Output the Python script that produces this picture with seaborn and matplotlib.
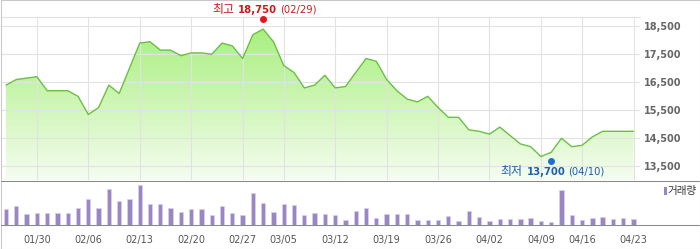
import numpy as np
import pandas as pd
import matplotlib
matplotlib.use("Agg")
import matplotlib.pyplot as plt
import matplotlib.transforms as mtransforms
from matplotlib.colors import LinearSegmentedColormap
from matplotlib.patches import Rectangle
from matplotlib.lines import Line2D
import seaborn as sns

# ---------------- data ----------------
day_index = list(range(62))
close = [16400, 16600, 16650, 16700, 16200, 16200, 16200, 16000, 15350, 15600,
         16400, 16100, 17000, 17900, 17950, 17650, 17650, 17450, 17550, 17550,
         17500, 17900, 17800, 17350, 18200, 18400, 17950, 17100, 16850, 16300,
         16400, 16750, 16300, 16350, 16850, 17350, 17250, 16600, 16200, 15900,
         15800, 16000, 15600, 15250, 15250, 14800, 14750, 14650, 14900, 14600,
         14300, 14200, 13850, 14000, 14500, 14200, 14250, 14550, 14750, 14750,
         14750, 14750]
volume = [47, 56, 32, 37, 36, 35, 37, 52, 77, 51,
          107, 73, 79, 120, 62, 62, 52, 39, 49, 49,
          29, 57, 37, 31, 95, 67, 38, 64, 60, 29,
          35, 32, 30, 14, 43, 51, 20, 33, 32, 32,
          16, 16, 15, 26, 12, 43, 23, 11, 19, 17,
          17, 22, 13, 10, 106, 31, 16, 20, 23, 17,
          21, 17]
tick_idx = [3, 8, 13, 18, 23, 27, 32, 37, 42, 47, 52, 56, 61]
tick_labels = ['01/30', '02/06', '02/13', '02/20', '02/27', '03/05', '03/12',
               '03/19', '03/26', '04/02', '04/09', '04/16', '04/23']
price_ticks = [13500, 14500, 15500, 16500, 17500, 18500]
hi_idx, hi_val, hi_date = 25, 18750, '02/29'
lo_idx, lo_val, lo_date = 53, 13700, '04/10'
hi_word, lo_word, vol_word = '최고', '최저', '거래량'

# ---------------- style ----------------
sns.set_style("white")
plt.rcParams['font.family'] = ['DejaVu Sans', 'Noto Sans CJK KR']

W, H = 700, 249
fig = plt.figure(figsize=(W / 100, H / 100), dpi=100)


def fx(px):
    return px / W


def fy(py):
    return 1 - py / H


i0_px = 6.0
step_px = (633.5 - 6.0) / 61
xlim = ((1 - i0_px) / step_px, (640 - i0_px) / step_px)
ylim = (13011, 18821)

ax = fig.add_axes([fx(1), fy(180), 639 / W, (180 - 17.3) / H])
axv = fig.add_axes([fx(1), fy(225), 639 / W, (225 - 182) / H])

# ---- price panel ----
grad = np.linspace(1, 0, 256).reshape(-1, 1)
cmap = LinearSegmentedColormap.from_list('g', ['#f5fdf0', '#a3ee76'])
im = ax.imshow(grad, aspect='auto', cmap=cmap, origin='upper',
               extent=[xlim[0], xlim[1], ylim[0], ylim[1]], zorder=1)
poly = ax.fill_between(day_index, close, ylim[0], color='none', lw=0)
im.set_clip_path(poly.get_paths()[0], ax.transData)

sns.lineplot(x=day_index, y=close, ax=ax, color='#6cbf44', linewidth=1.0,
             zorder=3)
ax.set_xlim(xlim)
ax.set_ylim(ylim)
ax.set_xlabel('')
ax.set_ylabel('')
ax.set_xticks(tick_idx)
ax.set_xticklabels([])
ax.set_yticks(price_ticks)
ax.set_yticklabels([f'{v:,}' for v in price_ticks], fontweight='bold')
ax.yaxis.tick_right()
ax.tick_params(axis='y', length=0, pad=3, labelsize=7, labelcolor='#666666')
ax.tick_params(axis='x', length=0)
ax.set_axisbelow(False)
ax.grid(True, color='#e2e2e2', lw=0.8, zorder=2)
for s in ['left', 'right', 'bottom']:
    ax.spines[s].set_visible(False)
ax.spines['top'].set_color('#e2e2e2')
ax.spines['top'].set_linewidth(0.8)
ax.patch.set_alpha(0)

# high / low markers
ax.plot([hi_idx], [hi_val], 'o', color='#e8141c', ms=4, zorder=6, clip_on=False)
ax.plot([lo_idx], [lo_val], 'o', color='#1f6fd0', ms=4, zorder=6, clip_on=False)

renderer = fig.canvas.get_renderer()
ident = mtransforms.IdentityTransform()


def label_parts(xd, yd, dx_px, dy_px, word, num, date, color):
    bx, by = ax.transData.transform((xd, yd))
    cx, cy = bx + dx_px, by + dy_px
    base = cy - 3.6
    mid = fig.text(cx, base, num, transform=ident, ha='center', va='baseline',
                   fontsize=7.3, fontweight='bold', color=color)
    bb = mid.get_window_extent(renderer)
    fig.text(bb.x0 - 4, base - 0.3, word, transform=ident, ha='right',
             va='baseline', fontsize=8.6, color=color,
             family=['Noto Sans CJK KR', 'DejaVu Sans'])
    fig.text(bb.x1 + 3, base, f'({date})', transform=ident, ha='left',
             va='baseline', fontsize=7.2, color=color)


label_parts(hi_idx, hi_val, -5.5, 10.3, hi_word, f'{hi_val:,}', hi_date, '#cc1a1a')
label_parts(lo_idx, lo_val, -5.2, -10.3, lo_word, f'{lo_val:,}', lo_date, '#1f5fae')

# ---- volume panel ----
sns.barplot(x=day_index, y=volume, ax=axv, color='#9b86c4', width=0.42,
            native_scale=True, saturation=1, edgecolor='#d9d0ee', linewidth=0.5)
axv.set_xlim(xlim)
axv.set_ylim(0, max(volume) * 43 / 40)
axv.set_xlabel('')
axv.set_ylabel('')
axv.set_xticks(tick_idx)
axv.set_xticklabels(tick_labels)
axv.set_yticks([])
axv.tick_params(axis='x', length=4, width=0.7, color='#aaaaaa', pad=3,
                labelsize=7, labelcolor='#555555')
for s in axv.spines.values():
    s.set_visible(False)
axv.patch.set_alpha(0)

# separators & border
for yy in (181, 225):
    fig.add_artist(Line2D([fx(1), fx(699)], [fy(yy), fy(yy)],
                          transform=fig.transFigure, color='#8a8a8a', lw=0.75))
fig.add_artist(Rectangle((0.5 / W, 0.5 / H), (W - 1) / W, (H - 1) / H,
                         transform=fig.transFigure, fill=False,
                         edgecolor='#c8c8c8', lw=0.75))

# legend
fig.add_artist(Rectangle((fx(664), fy(195)), 2.5 / W, 8 / H,
                         transform=fig.transFigure, color='#9b86c4', lw=0))
fig.text(fx(667.5), fy(191), vol_word, ha='left', va='center', fontsize=7.6,
         color='#333333', family=['Noto Sans CJK KR', 'DejaVu Sans'])

fig.savefig('out.png', dpi=100)
